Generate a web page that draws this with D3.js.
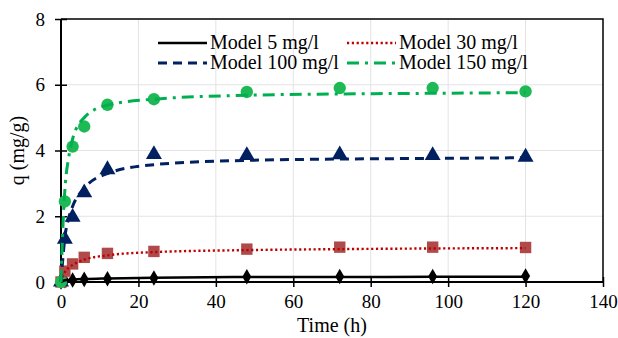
<!DOCTYPE html>
<html>
<head>
<meta charset="utf-8">
<script src="https://cdn.jsdelivr.net/npm/d3@7"></script>
<style>
  body { margin: 0; background: #fff; }
  svg text { font-family: "Times New Roman", Times, "Liberation Serif", "Noto Serif", "DejaVu Serif", serif; }
</style>
</head>
<body>
<svg id="chart" width="618" height="338"></svg>
<script>
// sampling times (h)
const times = [0, 1, 3, 6, 12, 24, 48, 72, 96, 120];

// measured q (mg/g)
const q5   = [0, 0.04, 0.06, 0.08, 0.10, 0.12, 0.16, 0.17, 0.17, 0.18];
const q30  = [0, 0.33, 0.55, 0.75, 0.87, 0.93, 1.00, 1.06, 1.06, 1.05];
const q100 = [0, 1.30, 1.97, 2.72, 3.42, 3.88, 3.85, 3.87, 3.85, 3.80];
const q150 = [0, 2.45, 4.12, 4.73, 5.39, 5.56, 5.78, 5.90, 5.90, 5.80];

// model curves
const modelTimes = [0, 0.5, 1, 2, 3, 6, 12, 24, 48, 72, 96, 120];
const m5   = [0, 0.03, 0.05, 0.06, 0.07, 0.09, 0.11, 0.13, 0.15, 0.15, 0.16, 0.16];
const m30  = [0, 0.18, 0.30, 0.44, 0.52, 0.68, 0.81, 0.91, 0.97, 1.00, 1.02, 1.03];
const m100 = [0, 0.75, 1.35, 1.95, 2.30, 2.85, 3.30, 3.57, 3.70, 3.74, 3.76, 3.78];
const m150 = [0, 1.70, 2.80, 3.80, 4.35, 5.00, 5.38, 5.56, 5.68, 5.72, 5.74, 5.76];

const xTicks = [0, 20, 40, 60, 80, 100, 120, 140];
const yTicks = [0, 2, 4, 6, 8];

const svg = d3.select("#chart");
const margin = { top: 19, right: 15, bottom: 56, left: 61 };
const width = 618, height = 338;

const x = d3.scaleLinear().domain([0, 140]).range([margin.left, width - margin.right]);
const y = d3.scaleLinear().domain([0, 8]).range([height - margin.bottom, margin.top]);

// grid
svg.append("g")
  .selectAll("line")
  .data(xTicks.slice(1, -1))
  .join("line")
  .attr("x1", d => x(d)).attr("x2", d => x(d))
  .attr("y1", y(0)).attr("y2", y(8))
  .attr("stroke", "#e3e3e3").attr("stroke-width", 1);
svg.append("g")
  .selectAll("line")
  .data(yTicks.slice(1, -1))
  .join("line")
  .attr("x1", x(0)).attr("x2", x(140))
  .attr("y1", d => y(d)).attr("y2", d => y(d))
  .attr("stroke", "#e3e3e3").attr("stroke-width", 1);

// frame top/right
svg.append("path")
  .attr("d", `M${x(0)},${y(8)}H${x(140)}V${y(0)}`)
  .attr("fill", "none").attr("stroke", "#000").attr("stroke-width", 1.5);

// axes
const gx = svg.append("g")
  .attr("transform", `translate(0,${y(0)})`)
  .call(d3.axisBottom(x).tickValues(xTicks).tickSize(5).tickPadding(8));
gx.attr("font-family", null).attr("font-size", 19);
gx.select(".domain").attr("stroke-width", 2).attr("d", `M${x(0)},0H${x(140)}`);
gx.selectAll(".tick line").attr("y1", -5).attr("stroke-width", 1.5);
gx.selectAll(".tick text").attr("fill", "#000");

const gy = svg.append("g")
  .attr("transform", `translate(${x(0)},0)`)
  .call(d3.axisLeft(y).tickValues(yTicks).tickSize(6).tickPadding(10));
gy.attr("font-family", null).attr("font-size", 19);
gy.select(".domain").attr("stroke-width", 2).attr("d", `M0,${y(0)}V${y(8)}`);
gy.selectAll(".tick line").attr("x1", 6).attr("stroke-width", 1.5);
gy.selectAll(".tick text").attr("fill", "#000");

// axis titles
svg.append("text")
  .attr("x", (x(0) + x(140)) / 2).attr("y", 332)
  .attr("text-anchor", "middle").attr("font-size", 20)
  .text("Time (h)");
svg.append("text")
  .attr("transform", `translate(24,${(y(0) + y(8)) / 2}) rotate(-90)`)
  .attr("text-anchor", "middle").attr("font-size", 20)
  .text("q (mg/g)");

const series = [
  { name: "Model 5 mg/l",   obs: q5,   model: m5,   color: "#000000", dash: null,       width: 2.5, marker: d3.symbolDiamond,  size: 70,  fill: "#000000" },
  { name: "Model 30 mg/l",  obs: q30,  model: m30,  color: "#c00000", dash: "2.2,2.6",  width: 2.4, marker: d3.symbolSquare,   size: 130, fill: "#b04a4a" },
  { name: "Model 100 mg/l", obs: q100, model: m100, color: "#002060", dash: "9,6",      width: 3,   marker: d3.symbolTriangle, size: 110, fill: "#002060" },
  { name: "Model 150 mg/l", obs: q150, model: m150, color: "#00b050", dash: "12,6,3,6", width: 3,   marker: d3.symbolCircle,   size: 120, fill: "#1db954" }
];

const line = d3.line()
  .x((d, i) => x(modelTimes[i]))
  .y(d => y(d))
  .curve(d3.curveMonotoneX);

// markers first, model lines on top
series.forEach(s => {
  svg.append("g")
    .selectAll("path")
    .data(s.obs)
    .join("path")
    .attr("transform", (d, i) => `translate(${x(times[i])},${y(d)})`)
    .attr("d", d3.symbol().type(s.marker).size(s.size))
    .attr("fill", s.fill);
});
series.forEach(s => {
  svg.append("path")
    .datum(s.model)
    .attr("d", line)
    .attr("fill", "none")
    .attr("stroke", s.color)
    .attr("stroke-width", s.width)
    .attr("stroke-dasharray", s.dash);
});

// legend
const legendPos = [
  { lx: 158, ty: 43 }, { lx: 347, ty: 43 },
  { lx: 158, ty: 63 }, { lx: 347, ty: 63 }
];
series.forEach((s, j) => {
  const p = legendPos[j];
  svg.append("line")
    .attr("x1", p.lx).attr("x2", p.lx + 49)
    .attr("y1", p.ty).attr("y2", p.ty)
    .attr("stroke", s.color)
    .attr("stroke-width", s.width)
    .attr("stroke-dasharray", s.dash);
  svg.append("text")
    .attr("x", p.lx + 52).attr("y", p.ty + 6)
    .attr("font-size", 20)
    .text(s.name);
});
</script>
</body>
</html>
